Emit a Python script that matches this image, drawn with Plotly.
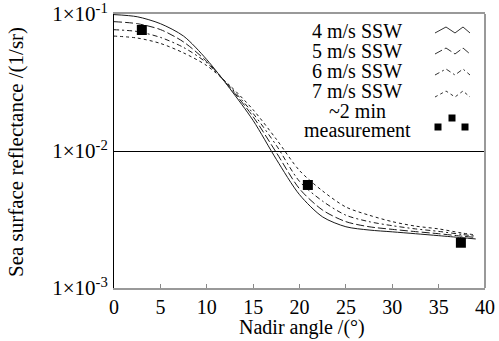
import plotly.graph_objects as go

# ---------------- data ----------------
angle = [0, 2.5, 5, 7.5, 10, 12.5, 15, 17.5, 20, 22.5, 25, 27.5, 30, 32.5, 35, 37.5, 39]
ssw4 = [0.099, 0.0955, 0.0850, 0.0690, 0.0465, 0.0285, 0.0167, 0.0087, 0.0048, 0.0033,
        0.00280, 0.00265, 0.00257, 0.00249, 0.00241, 0.00233, 0.00228]
ssw5 = [0.0879, 0.0850, 0.0770, 0.0625, 0.0450, 0.0290, 0.0178, 0.00975, 0.0053, 0.0037,
        0.00305, 0.00280, 0.00268, 0.00258, 0.00249, 0.00239, 0.00234]
ssw6 = [0.0768, 0.0745, 0.0675, 0.0570, 0.0440, 0.0295, 0.0188, 0.0110, 0.0060, 0.0043,
        0.0034, 0.00305, 0.00285, 0.00270, 0.00259, 0.00246, 0.00239]
ssw7 = [0.069, 0.0668, 0.0610, 0.0520, 0.0420, 0.0300, 0.0200, 0.0122, 0.0072, 0.0051,
        0.0039, 0.0034, 0.00305, 0.00283, 0.00270, 0.00252, 0.00244]
meas_angle = [3.0, 20.9, 37.4]
meas_val = [0.0764, 0.00565, 0.00214]

series_names = ["4 m/s SSW", "5 m/s SSW", "6 m/s SSW", "7 m/s SSW"]
meas_name = ["~2 min", "measurement"]
x_ticks = [0, 5, 10, 15, 20, 25, 30, 35, 40]
y_ticks = [0.1, 0.01, 0.001]
y_ticktext = ["1×10<sup>-1</sup>", "1×10<sup>-2</sup>", "1×10<sup>-3</sup>"]

# ---------------- layout geometry (page pixels) ----------------
W, H = 499, 341
PL, PR, PT, PB = 114, 485, 14, 288           # plot box
L, R, T, B = PL, W - PR, PT, H - PB
PW, PH = PR - PL, PB - PT
FONT = "Liberation Serif"


def px(x, y):
    return (x - PL) / PW, (PB - y) / PH


dashes = ["solid", "8px,3px", "5px,3px,2px,3px", "3px,3px"]
series = [ssw4, ssw5, ssw6, ssw7]

fig = go.Figure()
for name, vals, d in zip(series_names, series, dashes):
    fig.add_trace(go.Scatter(x=angle, y=vals, mode="lines", name=name,
                             line=dict(color="#1a1a1a", width=1, dash=d, shape="spline",
                                       smoothing=0.8),
                             showlegend=False))
fig.add_trace(go.Scatter(x=meas_angle, y=meas_val, mode="markers", name="measurement",
                         marker=dict(symbol="square", size=10, color="black"),
                         showlegend=False))

shapes = []
annotations = []
# custom legend (text centred, icon on the right)
rows_y = [31, 51, 71, 91]
for i, name in enumerate(series_names):
    xp, yp = px(357, rows_y[i])
    annotations.append(dict(x=xp, y=yp, xref="paper", yref="paper", text=name,
                            showarrow=False, xanchor="center", yanchor="middle",
                            font=dict(family=FONT, size=20, color="black")))
    cy = [30, 51, 72, 94][i]
    pts = [(435, cy + 3), (446, cy - 3), (455, cy + 3), (463, cy - 3), (470, cy + 3)]
    path = "M " + " L ".join("%f,%f" % px(a, b) for a, b in pts)
    shapes.append(dict(type="path", path=path, xref="paper", yref="paper",
                       line=dict(color="#333", width=1, dash=dashes[i])))
for j, (txt, yy) in enumerate(zip(meas_name, [111, 130])):
    xp, yp = px(357, yy)
    annotations.append(dict(x=xp, y=yp, xref="paper", yref="paper", text=txt,
                            showarrow=False, xanchor="center", yanchor="middle",
                            font=dict(family=FONT, size=20, color="black")))
for (cx, cy) in [(438, 127), (452, 118), (465, 127)]:
    x0, y0 = px(cx - 3.5, cy + 3.5)
    x1, y1 = px(cx + 3.5, cy - 3.5)
    shapes.append(dict(type="rect", x0=x0, y0=y0, x1=x1, y1=y1, xref="paper", yref="paper",
                       fillcolor="black", line=dict(width=0)))

# right border (gray)
shapes.append(dict(type="line", x0=1, x1=1, y0=0, y1=1, xref="paper", yref="paper",
                   line=dict(color="#999", width=2)))

# axis titles
annotations.append(dict(x=px(16, 0)[0], y=px(0, 152)[1], xref="paper", yref="paper",
                        text="Sea surface reflectance /(1/sr)", textangle=-90,
                        showarrow=False, xanchor="center", yanchor="middle",
                        font=dict(family=FONT, size=21, color="black")))
annotations.append(dict(x=px(302, 0)[0], y=px(0, 327)[1], xref="paper", yref="paper",
                        text="Nadir angle /(°)", showarrow=False,
                        xanchor="center", yanchor="middle",
                        font=dict(family=FONT, size=20, color="black")))

fig.update_layout(
    width=W, height=H,
    margin=dict(l=L, r=R, t=T, b=B, autoexpand=False),
    paper_bgcolor="white", plot_bgcolor="white",
    font=dict(family=FONT, size=20, color="black"),
    shapes=shapes, annotations=annotations,
    xaxis=dict(range=[0, 40], tickvals=x_ticks, ticks="inside", ticklen=4,
               tickcolor="#888", showgrid=False, zeroline=False, automargin=False,
               showline=True, linecolor="#999", linewidth=2, mirror=True,
               ticklabeloverflow="allow", tickfont=dict(family=FONT, size=20)),
    yaxis=dict(type="log", range=[-3, -1], tickvals=y_ticks, ticktext=y_ticktext,
               ticks="", showgrid=True, gridcolor="black", gridwidth=1, automargin=False,
               zeroline=False, showline=True, linecolor="black", linewidth=1,
               ticklabeloverflow="allow", tickfont=dict(family=FONT, size=21),
               ticklabelstandoff=1),
)

fig.write_html(
    "out.html",
    config={"displayModeBar": False},
    post_script="document.body.style.margin='0';document.body.style.overflow='hidden';",
)
